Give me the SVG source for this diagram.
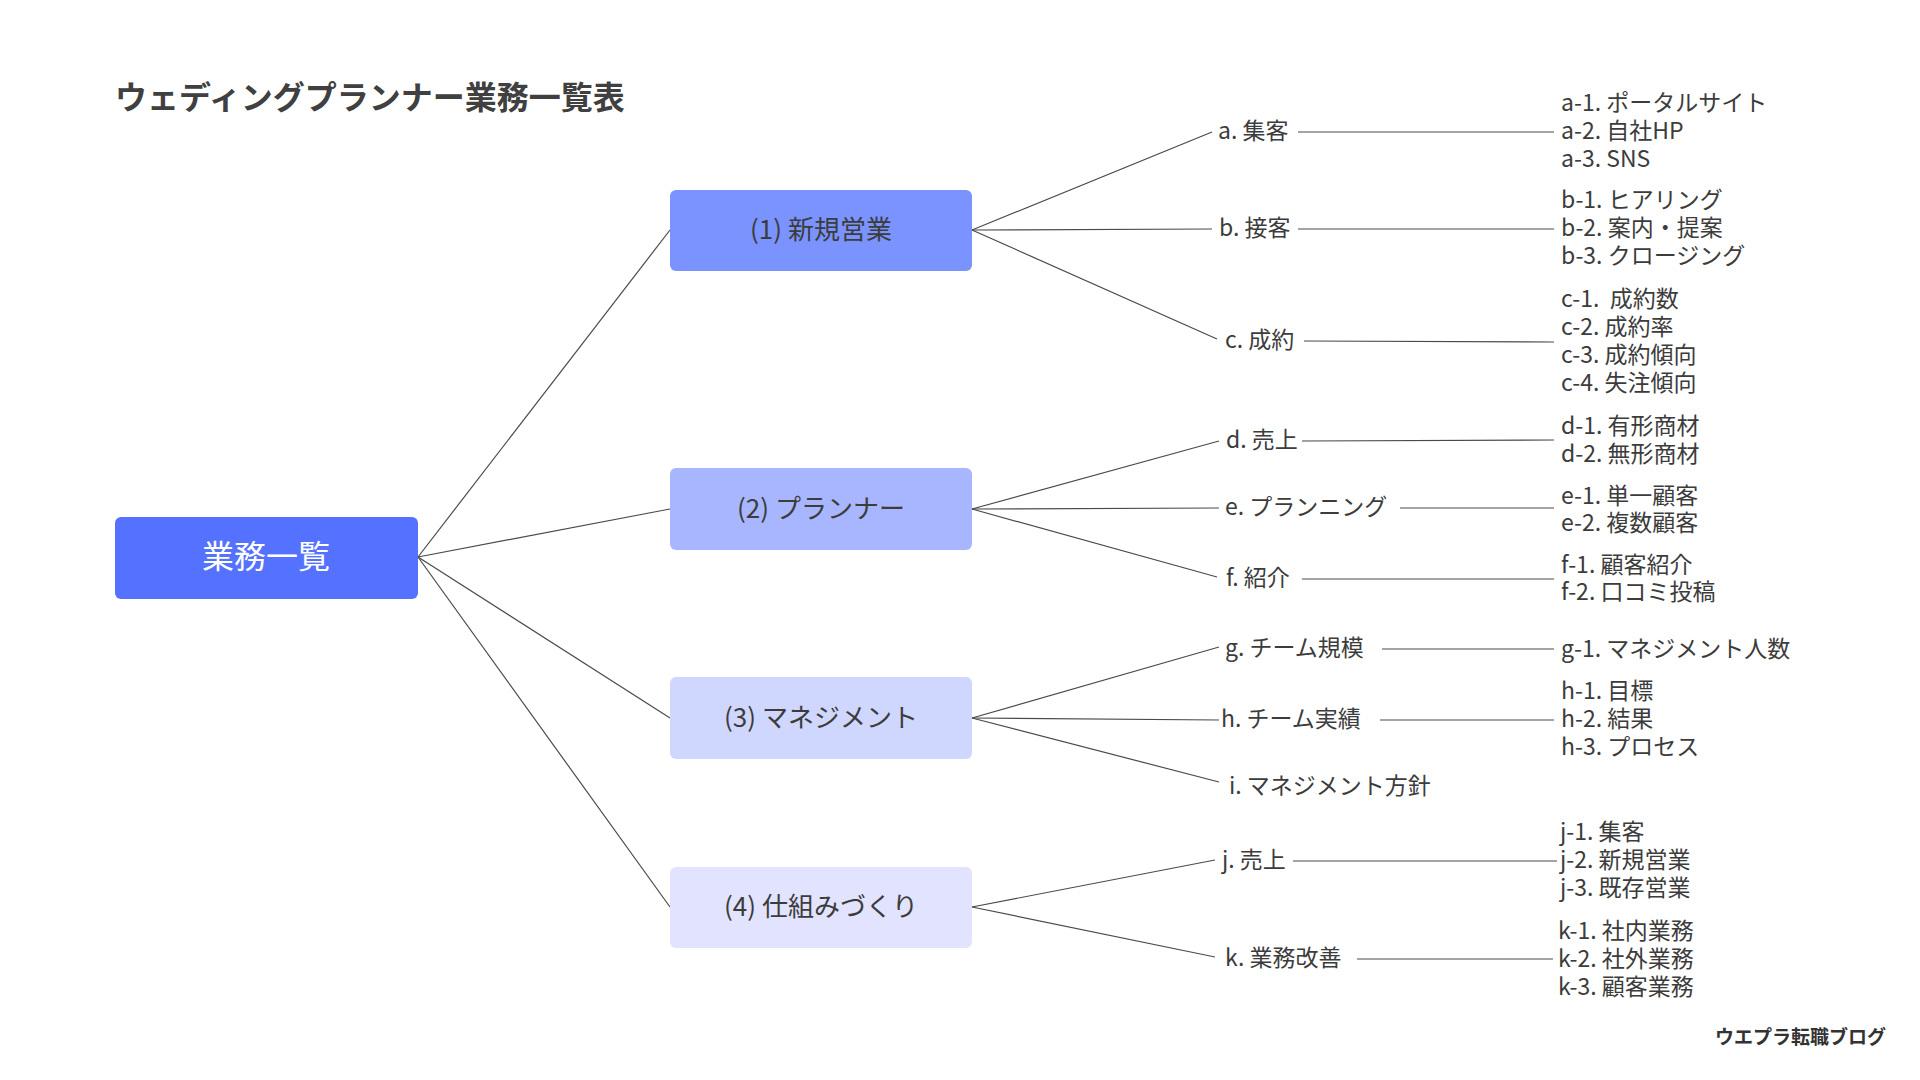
<svg xmlns="http://www.w3.org/2000/svg" width="1920" height="1080" viewBox="0 0 1920 1080">
<style>
text{font-family:"Noto Sans CJK JP","Noto Sans",sans-serif;fill:#3c3c3c;dominant-baseline:central}
.title{font-size:32px;font-weight:700;fill:#404040}
.root{font-size:32px;fill:#ffffff;text-anchor:middle}
.box{font-size:26px;text-anchor:middle}
.l2,.l3{font-size:23px}
.foot{font-size:19px;font-weight:700;text-anchor:end;fill:#333}
.conn line{stroke:#4a4a4a;stroke-width:1.2}
</style>
<rect width="1920" height="1080" fill="#ffffff"/>
<text class="title" x="115" y="95">ウェディングプランナー業務一覧表</text>

<g class="conn" id="connectors">
<line x1="418" y1="557" x2="670" y2="230"/>
<line x1="418" y1="557" x2="670" y2="509"/>
<line x1="418" y1="557" x2="670" y2="718"/>
<line x1="418" y1="557" x2="670" y2="907"/>
<line x1="972" y1="230" x2="1212" y2="132"/>
<line x1="972" y1="230" x2="1212" y2="229"/>
<line x1="972" y1="230" x2="1217" y2="339"/>
<line x1="972" y1="509" x2="1219" y2="441"/>
<line x1="972" y1="509" x2="1219" y2="508"/>
<line x1="972" y1="509" x2="1217" y2="577"/>
<line x1="972" y1="718" x2="1219" y2="647"/>
<line x1="972" y1="718" x2="1219" y2="720"/>
<line x1="972" y1="718" x2="1219" y2="782"/>
<line x1="972" y1="907" x2="1215" y2="860"/>
<line x1="972" y1="907" x2="1215" y2="957"/>
<line x1="1298" y1="132" x2="1554" y2="132"/>
<line x1="1298" y1="229" x2="1554" y2="229"/>
<line x1="1304" y1="341" x2="1554" y2="342"/>
<line x1="1302" y1="441" x2="1554" y2="440"/>
<line x1="1400" y1="508" x2="1554" y2="508"/>
<line x1="1302" y1="579" x2="1554" y2="579"/>
<line x1="1382" y1="649" x2="1554" y2="649"/>
<line x1="1380" y1="720" x2="1554" y2="720"/>
<line x1="1293" y1="861" x2="1557" y2="861"/>
<line x1="1357" y1="959" x2="1553" y2="959"/>
</g>

<g id="root">
<rect x="115" y="517" width="303" height="82" rx="6" fill="#5472ff"/>
<text class="root" x="266" y="554">業務一覧</text>
</g>
<g id="n1">
<rect x="670" y="190" width="302" height="81" rx="6" fill="#7a93ff"/>
<text class="box" x="821" y="227">(1) 新規営業</text>
</g>
<g id="n2">
<rect x="670" y="468" width="302" height="82" rx="6" fill="#a7b6ff"/>
<text class="box" x="821" y="506">(2) プランナー</text>
</g>
<g id="n3">
<rect x="670" y="677" width="302" height="82" rx="6" fill="#d0d7ff"/>
<text class="box" x="821" y="715">(3) マネジメント</text>
</g>
<g id="n4">
<rect x="670" y="867" width="302" height="81" rx="6" fill="#e2e3ff"/>
<text class="box" x="821" y="904">(4) 仕組みづくり</text>
</g>

<g id="a"><text class="l2" x="1218" y="129">a. 集客</text></g>
<g id="b"><text class="l2" x="1219" y="226">b. 接客</text></g>
<g id="c"><text class="l2" x="1225" y="338">c. 成約</text></g>
<g id="d"><text class="l2" x="1226" y="438">d. 売上</text></g>
<g id="e"><text class="l2" x="1225" y="505">e. プランニング</text></g>
<g id="f"><text class="l2" x="1226" y="576">f. 紹介</text></g>
<g id="g"><text class="l2" x="1225" y="646">g. チーム規模</text></g>
<g id="h"><text class="l2" x="1221" y="717">h. チーム実績</text></g>
<g id="i"><text class="l2" x="1229" y="784">i. マネジメント方針</text></g>
<g id="j"><text class="l2" x="1222" y="858">j. 売上</text></g>
<g id="k"><text class="l2" x="1225" y="956">k. 業務改善</text></g>

<g id="a-sub">
<text class="l3" x="1561" y="101">a-1. ポータルサイト</text>
<text class="l3" x="1561" y="129">a-2. 自社HP</text>
<text class="l3" x="1561" y="157">a-3. SNS</text>
</g>
<g id="b-sub">
<text class="l3" x="1561" y="198">b-1. ヒアリング</text>
<text class="l3" x="1561" y="226">b-2. 案内・提案</text>
<text class="l3" x="1561" y="254">b-3. クロージング</text>
</g>
<g id="c-sub">
<text class="l3" x="1561" y="297" xml:space="preserve">c-1.  成約数</text>
<text class="l3" x="1561" y="325">c-2. 成約率</text>
<text class="l3" x="1561" y="353">c-3. 成約傾向</text>
<text class="l3" x="1561" y="381">c-4. 失注傾向</text>
</g>
<g id="d-sub">
<text class="l3" x="1561" y="424">d-1. 有形商材</text>
<text class="l3" x="1561" y="452">d-2. 無形商材</text>
</g>
<g id="e-sub">
<text class="l3" x="1561" y="494">e-1. 単一顧客</text>
<text class="l3" x="1561" y="521">e-2. 複数顧客</text>
</g>
<g id="f-sub">
<text class="l3" x="1561" y="563">f-1. 顧客紹介</text>
<text class="l3" x="1561" y="590">f-2. 口コミ投稿</text>
</g>
<g id="g-sub">
<text class="l3" x="1561" y="647">g-1. マネジメント人数</text>
</g>
<g id="h-sub">
<text class="l3" x="1561" y="689">h-1. 目標</text>
<text class="l3" x="1561" y="717">h-2. 結果</text>
<text class="l3" x="1561" y="745">h-3. プロセス</text>
</g>
<g id="j-sub">
<text class="l3" x="1560" y="830">j-1. 集客</text>
<text class="l3" x="1560" y="858">j-2. 新規営業</text>
<text class="l3" x="1560" y="886">j-3. 既存営業</text>
</g>
<g id="k-sub">
<text class="l3" x="1558" y="929">k-1. 社内業務</text>
<text class="l3" x="1558" y="957">k-2. 社外業務</text>
<text class="l3" x="1558" y="985">k-3. 顧客業務</text>
</g>

<text class="foot" x="1886" y="1035">ウエプラ転職ブログ</text>
</svg>
